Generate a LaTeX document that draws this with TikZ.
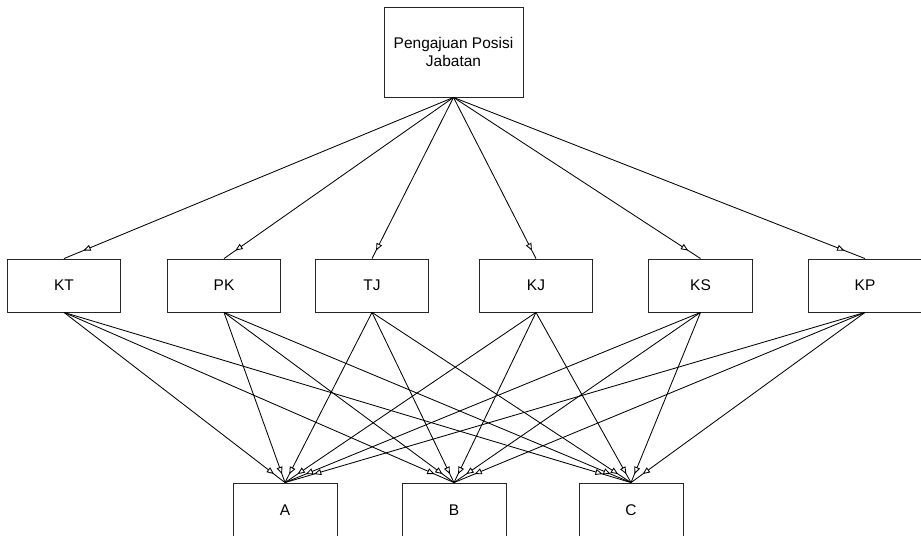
\documentclass[tikz,border=0pt]{standalone}
\usepackage{fontspec}
\setmainfont{Liberation Sans}
\usetikzlibrary{arrows.meta,decorations.markings}

\begin{document}
\begin{tikzpicture}[x=0.025cm, y=-0.025cm, font=\fontsize{11}{12.8}\selectfont,
  box/.style={draw=black!85, line width=0.6pt, minimum width=2.825cm, minimum height=1.325cm, inner sep=0pt},
  link/.style={line width=0.6pt, postaction={decorate},
    decoration={markings, mark=at position 0.95 with {\arrow{Triangle[fill=white, length=0.18cm, width=0.15cm, line width=0.6pt]}}}}]
\useasboundingbox (0,0) rectangle (921,536);
\clip (0,0) rectangle (921,536);

% goal
\node[box, minimum width=3.475cm, minimum height=2.25cm, align=center] (top) at (453.5,52) {Pengajuan Posisi\\Jabatan};

% criteria
\node[box] (kt) at (64,285.5) {KT};
\node[box] (pk) at (224,285.5) {PK};
\node[box] (tj) at (372,285.5) {TJ};
\node[box] (kj) at (536,285.5) {KJ};
\node[box, minimum width=2.6cm] (ks) at (700.5,285.5) {KS};
\node[box] (kp) at (865,285.5) {KP};

% alternatives
\node[box, minimum width=2.6cm, minimum height=1.375cm] (a) at (285,510.5) {A};
\node[box, minimum width=2.6cm, minimum height=1.375cm] (b) at (454,510.5) {B};
\node[box, minimum width=2.6cm, minimum height=1.375cm] (c) at (631,510.5) {C};

\foreach \k in {kt,pk,tj,kj,ks,kp} {
  \draw[link] (top.south) -- (\k.north);
  \foreach \alt in {a,b,c}
    \draw[link] (\k.south) -- (\alt.north);
}
\end{tikzpicture}
\end{document}
